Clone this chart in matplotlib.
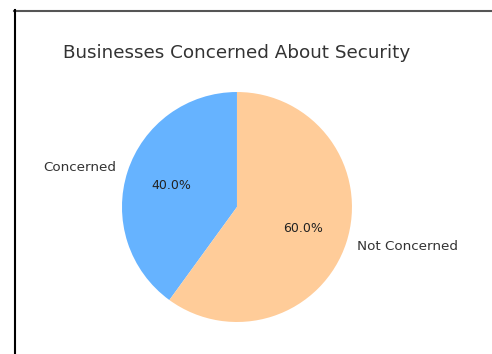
import matplotlib
matplotlib.use("Agg")
import matplotlib.pyplot as plt
from matplotlib.lines import Line2D

labels = ['Concerned', 'Not Concerned']
sizes = [40, 60]
colors = ['#66b3ff', '#ffcc99']

fig = plt.figure(figsize=(4.92, 3.54), dpi=100)
ax = fig.add_axes([0.1895, 0.0092, 0.5843, 0.8121])

wedges, texts, autotexts = ax.pie(sizes, labels=labels, colors=colors,
                                  autopct='%1.1f%%', startangle=90)
for t in texts:
    t.set_fontsize(9.7)
    t.set_color('#333333')
for t in autotexts:
    t.set_fontsize(9)
    t.set_color('#222222')
ax.set_title('Businesses Concerned About Security', fontsize=13.2,
             color='#333333', pad=4)

# frame of the original screenshot (top and left edges only)
W, H = 492, 354
fig.add_artist(Line2D([14 / W, 1], [1 - 10.5 / H, 1 - 10.5 / H],
                      transform=fig.transFigure, color='#555555', lw=1.5))
fig.add_artist(Line2D([14.5 / W, 14.5 / W], [0, 1 - 10 / H],
                      transform=fig.transFigure, color='black', lw=1.5))

fig.savefig('out.png', dpi=100)
